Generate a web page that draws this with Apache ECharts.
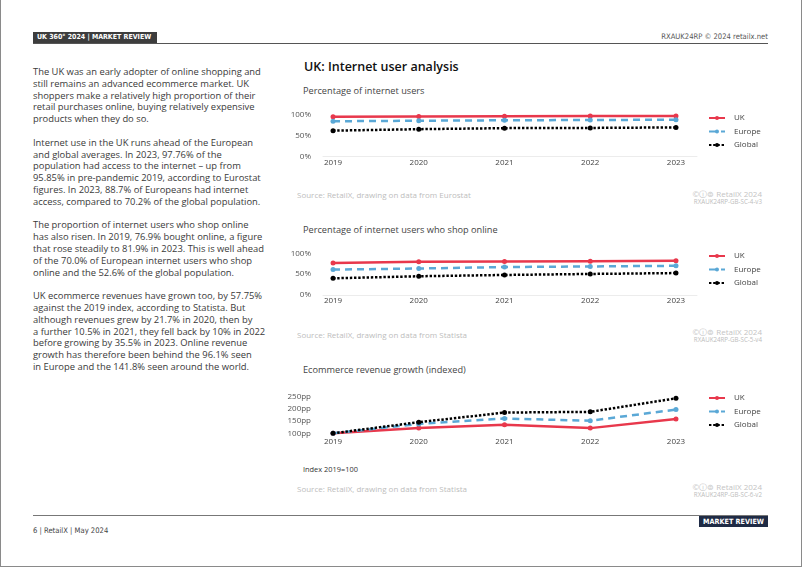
<!DOCTYPE html>
<html><head><meta charset="utf-8">
<script src="https://cdn.jsdelivr.net/npm/echarts@6/dist/echarts.min.js"></script>
<style>
html,body{margin:0;padding:0;background:#fff;}
body{width:802px;height:567px;position:relative;overflow:hidden;font-family:'Open Sans',sans-serif;}
#page{position:absolute;left:0;top:0;width:800px;height:566px;border-left:1px solid #8a8a8a;border-right:1px solid #8a8a8a;border-bottom:1px solid #8a8a8a;}
.abs{position:absolute;white-space:nowrap;}
#hdrbox{left:33px;top:32px;width:124px;height:11px;background:#3d3d3d;color:#fff;font-family:'DejaVu Sans Condensed','DejaVu Sans',sans-serif;font-weight:bold;font-size:7px;line-height:11px;padding-left:4px;box-sizing:border-box;overflow:hidden;}
#hdrline{left:33px;top:43px;width:735px;height:1px;background:#555;}
#hdrright{right:34px;top:31px;font-family:'DejaVu Sans Condensed','DejaVu Sans',sans-serif;font-size:7.6px;color:#555;line-height:12px;}
#ftrline{left:33px;top:515px;width:735px;height:1px;background:#777;}
#ftrbox{left:699px;top:516px;width:69px;height:11px;background:#1f2b45;color:#fff;font-family:'DejaVu Sans Condensed','DejaVu Sans',sans-serif;font-weight:bold;font-size:7.2px;line-height:11px;text-align:center;}
#ftrtext{left:33px;top:525px;font-family:'DejaVu Sans Condensed','DejaVu Sans',sans-serif;font-size:7.6px;color:#444;line-height:12px;}
#body{left:33px;top:66px;font-size:9.4px;line-height:11.8px;color:#3a3a3a;}
#body p{margin:0 0 11.8px 0;}
.title{font-weight:600;font-size:12.5px;color:#111;}
.sub{font-size:9.2px;color:#444;}
.src{font-size:8px;color:#bdbdbd;}
.cred{font-size:8px;color:#c4c4c4;text-align:right;right:40px;line-height:9px;}
.code{font-size:6.2px;color:#bdbdbd;text-align:right;right:40px;line-height:7px;}
#chart{position:absolute;left:0;top:0;width:802px;height:567px;}
</style></head>
<body>
<div id="page"></div>
<div class="abs" id="hdrbox">UK 360° 2024 | MARKET REVIEW</div>
<div class="abs" id="hdrline"></div>
<div class="abs" id="hdrright">RXAUK24RP © 2024 retailx.net</div>
<div class="abs" id="ftrline"></div>
<div class="abs" id="ftrbox">MARKET REVIEW</div>
<div class="abs" id="ftrtext">6 | RetailX | May 2024</div>
<div class="abs" id="body">
<p>The UK was an early adopter of online shopping and<br>still remains an advanced ecommerce market. UK<br>shoppers make a relatively high proportion of their<br>retail purchases online, buying relatively expensive<br>products when they do so.</p>
<p>Internet use in the UK runs ahead of the European<br>and global averages. In 2023, 97.76% of the<br>population had access to the internet – up from<br>95.85% in pre-pandemic 2019, according to Eurostat<br>figures. In 2023, 88.7% of Europeans had internet<br>access, compared to 70.2% of the global population.</p>
<p>The proportion of internet users who shop online<br>has also risen. In 2019, 76.9% bought online, a figure<br>that rose steadily to 81.9% in 2023. This is well ahead<br>of the 70.0% of European internet users who shop<br>online and the 52.6% of the global population.</p>
<p>UK ecommerce revenues have grown too, by 57.75%<br>against the 2019 index, according to Statista. But<br>although revenues grew by 21.7% in 2020, then by<br>a further 10.5% in 2021, they fell back by 10% in 2022<br>before growing by 35.5% in 2023. Online revenue<br>growth has therefore been behind the 96.1% seen<br>in Europe and the 141.8% seen around the world.</p>
</div>
<div class="abs title" style="left:304px;top:58px;">UK: Internet user analysis</div>
<div class="abs sub" style="left:303px;top:84px;">Percentage of internet users</div>
<div class="abs sub" style="left:303px;top:223px;">Percentage of internet users who shop online</div>
<div class="abs sub" style="left:303px;top:363px;">Ecommerce revenue growth (indexed)</div>
<div class="abs src" style="left:297px;top:189px;">Source: RetailX, drawing on data from Eurostat</div>
<div class="abs src" style="left:297px;top:329px;">Source: RetailX, drawing on data from Statista</div>
<div class="abs src" style="left:297px;top:483px;">Source: RetailX, drawing on data from Statista</div>
<div class="abs" style="left:303px;top:464px;font-size:7.4px;color:#333;">Index 2019=100</div>
<div class="abs cred" style="top:189px;">©ⓘ⊜ RetailX 2024</div>
<div class="abs code" style="top:198px;">RXAUK24RP-GB-SC-4-v3</div>
<div class="abs cred" style="top:327px;">©ⓘ⊜ RetailX 2024</div>
<div class="abs code" style="top:336px;">RXAUK24RP-GB-SC-5-v4</div>
<div class="abs cred" style="top:482px;">©ⓘ⊜ RetailX 2024</div>
<div class="abs code" style="top:491px;">RXAUK24RP-GB-SC-6-v2</div>
<div id="chart"></div>
<script>
const years = [2019, 2020, 2021, 2022, 2023];
const seriesNames = ['UK', 'Europe', 'Global'];
const usersUK = [95.85, 96.6, 97.1, 97.4, 97.76];
const usersEurope = [85.0, 86.3, 87.3, 88.0, 88.7];
const usersGlobal = [62.5, 66.0, 68.5, 69.0, 70.2];
const shopUK = [76.9, 79.8, 80.6, 81.2, 81.9];
const shopEurope = [61.0, 63.5, 67.0, 68.5, 70.0];
const shopGlobal = [40.0, 45.0, 48.0, 50.5, 52.6];
const revUK = [100, 121.7, 134.5, 121.0, 157.75];
const revEurope = [100, 138, 160, 151, 196.1];
const revGlobal = [100, 145, 184, 187, 241.8];
const pctTicks = [0, 50, 100];
const ppTicks = [100, 150, 200, 250];

const colors = {UK: '#e8384c', Europe: '#5aa8d6', Global: '#000000'};
const dashes = {UK: 'solid', Europe: [7, 5], Global: [2.4, 1.8]};
const FONT = 'Open Sans';

const grids = [
  {left: 323, right: 105, top: 115, bottom: 410.3},
  {left: 323, right: 105, top: 253.3, bottom: 272},
  {left: 323, right: 105, top: 396.3, bottom: 133.7}
];
function xAx(i, showLine, margin) {
  return {
    type: 'value', gridIndex: i, min: 2018.883, max: 2023.245,
    axisLine: {show: showLine, lineStyle: {color: '#ececec', width: 1}},
    axisTick: {show: false}, splitLine: {show: false},
    axisLabel: {customValues: years, formatter: v => String(v), fontSize: 8, color: '#444', fontFamily: FONT, margin: margin}
  };
}
function yAx(i, ticks, suffix) {
  return {
    type: 'value', gridIndex: i, min: ticks[0], max: ticks[ticks.length - 1], interval: ticks[1] - ticks[0],
    axisLine: {show: false}, axisTick: {show: false}, splitLine: {show: false},
    axisLabel: {formatter: '{value}' + suffix, fontSize: 8, color: '#555', fontFamily: FONT, margin: 12}
  };
}
function ser(name, i, vals) {
  return {
    name: name, type: 'line', xAxisIndex: i, yAxisIndex: i,
    data: years.map((y, k) => [y, vals[k]]),
    symbol: 'circle', symbolSize: 5, showSymbol: true, clip: false,
    lineStyle: {color: colors[name], width: 2.5, type: dashes[name], cap: 'butt'},
    itemStyle: {color: colors[name]}, z: 2
  };
}
function leg(top) {
  return {
    orient: 'vertical', left: 703, top: top, itemWidth: 16, itemHeight: 5, itemGap: 5.5,
    data: seriesNames, selectedMode: false,
    textStyle: {fontSize: 8, color: '#444', fontFamily: FONT, lineHeight: 8, padding: [0, 0, 0, 4]}
  };
}
const chart = echarts.init(document.getElementById('chart'), null, {renderer: 'canvas'});
chart.setOption({
  animation: false,
  backgroundColor: 'transparent',
  grid: grids,
  xAxis: [xAx(0, true, 2), xAx(1, true, 2), xAx(2, false, 4)],
  yAxis: [yAx(0, pctTicks, '%'), yAx(1, pctTicks, '%'), yAx(2, ppTicks, 'pp')],
  legend: [leg(109), leg(247), leg(389)],
  series: [
    ser('UK', 0, usersUK), ser('Europe', 0, usersEurope), ser('Global', 0, usersGlobal),
    ser('UK', 1, shopUK), ser('Europe', 1, shopEurope), ser('Global', 1, shopGlobal),
    ser('UK', 2, revUK), ser('Europe', 2, revEurope), ser('Global', 2, revGlobal)
  ]
});
</script>
</body></html>
